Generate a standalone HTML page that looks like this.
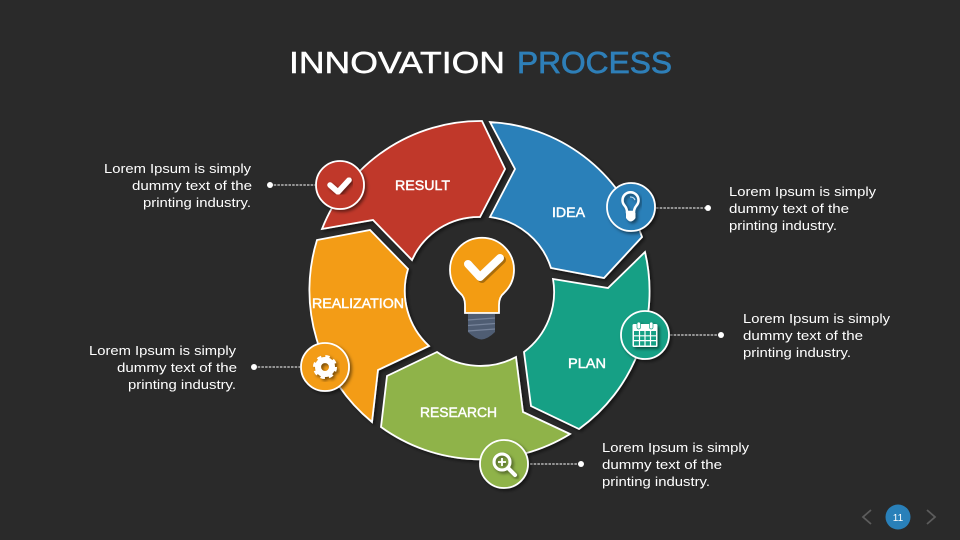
<!DOCTYPE html>
<html><head><meta charset="utf-8"><style>
html,body{margin:0;padding:0;background:#2a2a2a}
svg{display:block}
text{font-family:"Liberation Sans",sans-serif;fill:#fff}
.b{font-size:13px}
.l{font-size:13.5px;stroke:#fff;stroke-width:.45}
.c{stroke:#fff;stroke-width:1;stroke-dasharray:2.5 1.2;fill:none}
</style></head><body>
<svg width="960" height="540" viewBox="0 0 960 540" xmlns="http://www.w3.org/2000/svg">
<defs><filter id="s" x="-20%" y="-20%" width="140%" height="140%"><feDropShadow dx="2" dy="2" stdDeviation="1.500" flood-color="#000" flood-opacity=".5"/></filter></defs>
<rect width="960" height="540" fill="#2a2a2a"/>
<text x="289" y="73" font-size="31" stroke="#fff" stroke-width=".5" textLength="216" lengthAdjust="spacingAndGlyphs">INNOVATION</text>
<text x="517" y="73" font-size="31" stroke="#2e7fb8" stroke-width=".7" textLength="155" lengthAdjust="spacingAndGlyphs" style="fill:#2e7fb8">PROCESS</text>

<g stroke="#fff" stroke-width="1.800" stroke-linejoin="miter" filter="url(#s)">
<path fill="#c0392b" d="M322 229 A170 170 0 0 1 482 121 L505 169 L480 217 A73 73 0 0 0 412 260 L373 220 Z"/>
<path fill="#2980b9" d="M490 122 A170 170 0 0 1 642 237 L604 278 L551 268 A74 74 0 0 0 490 217 L515 169 Z"/>
<path fill="#16a085" d="M553 279 L608 288 L645 252 A170 170 0 0 1 579 429 L531 406 L524 352 A75 75 0 0 0 553 279 Z"/>
<path fill="#8fb34a" d="M570 434 L523 412 L516 357 A75 75 0 0 1 437 352 L387 376 L381 427 A170 170 0 0 0 570 434 Z"/>
<path fill="#f39c12" d="M429 346 L378 370 L372 422 A170 170 0 0 1 317 240 L370 230 L408 269 A75 75 0 0 0 429 346 Z"/>
</g>

<!-- central bulb -->
<path d="M468 314 H495 V332 Q488 339 481.500 339.500 Q475 339 468 332 Z" fill="#4f5d73"/>
<path d="M468 320 L495 318 M468 325.500 L495 323.500 M468 331 L495 329" stroke="#76839a" stroke-width="1.300" fill="none"/>
<path d="M465 313 V305 Q465 297 460 293 A32 32 0 1 1 504 293 Q499 297 499 305 V313 Z" fill="#f39c12" stroke="#fff" stroke-width="1.800"/>
<path d="M468 264 L480 277 L500 258" fill="none" stroke="#000" stroke-opacity=".3" stroke-width="8" stroke-linecap="round" stroke-linejoin="round" transform="translate(2,2)"/>
<path d="M468 264 L480 277 L500 258" fill="none" stroke="#fff" stroke-width="8" stroke-linecap="round" stroke-linejoin="round"/>

<!-- labels -->
<text class="l" x="395" y="190" textLength="55" lengthAdjust="spacingAndGlyphs">RESULT</text>
<text class="l" x="552" y="217" textLength="33" lengthAdjust="spacingAndGlyphs">IDEA</text>
<text class="l" x="312" y="308" textLength="92" lengthAdjust="spacingAndGlyphs">REALIZATION</text>
<text class="l" x="568" y="368" textLength="38" lengthAdjust="spacingAndGlyphs">PLAN</text>
<text class="l" x="420" y="417" textLength="77" lengthAdjust="spacingAndGlyphs">RESEARCH</text>

<!-- connectors -->
<path class="c" d="M270 185 H315 M254 367 H300 M656 208 H708 M670 335 H721 M530 464 H581"/>
<g fill="#fff"><circle cx="270" cy="185" r="3"/><circle cx="254" cy="367" r="3"/><circle cx="708" cy="208" r="3"/><circle cx="721" cy="335" r="3"/><circle cx="581" cy="464" r="3"/></g>

<!-- icon circles -->
<g stroke="#fff" stroke-width="1.800" filter="url(#s)">
<circle cx="340" cy="185" r="24" fill="#c0392b"/>
<circle cx="631" cy="207" r="24" fill="#2980b9"/>
<circle cx="645" cy="335" r="24" fill="#16a085"/>
<circle cx="504" cy="464" r="24" fill="#8fb34a"/>
<circle cx="325" cy="367" r="24" fill="#f39c12"/>
</g>

<!-- check -->
<g filter="url(#s)"><path d="M330 185 L338 192 L349 180" fill="none" stroke="#fff" stroke-width="5.500" stroke-linecap="round" stroke-linejoin="round"/></g>
<!-- bulb -->
<g filter="url(#s)">
<path d="M627 212 Q627 208.500 624.500 205.500 A8 8 0 1 1 636.500 205.500 Q634 208.500 634 212 Z" fill="none" stroke="#fff" stroke-width="2.500"/>
<path d="M630 197 A5 5 0 0 1 635 200" fill="none" stroke="#cfe3f2" stroke-width="1"/>
<path d="M626 213 H635.500 V218 Q633 221.500 630.500 221.500 Q628.500 221.500 626 218 Z" fill="#fff"/>
</g>
<!-- calendar -->
<g filter="url(#s)">
<rect x="632.500" y="324" width="25" height="23" rx="1.500" fill="#fff"/>
<path d="M634 331 H656 V345.500 H634 Z" fill="#16a085"/>
<path d="M634 335.800 H656 M634 340.600 H656 M639.500 331 V346 M645 331 V346 M650.500 331 V346" stroke="#fff" stroke-width="1.200" fill="none"/>
<rect x="637" y="322" width="3.500" height="7" rx="1.700" fill="#fff" stroke="#16a085" stroke-width=".7"/>
<rect x="649.500" y="322" width="3.500" height="7" rx="1.700" fill="#fff" stroke="#16a085" stroke-width=".7"/>
</g>
<!-- magnifier -->
<g filter="url(#s)">
<circle cx="502" cy="462" r="8" fill="none" stroke="#fff" stroke-width="3"/>
<path d="M508 468 L515 475" stroke="#fff" stroke-width="4" stroke-linecap="round"/>
<path d="M498 462 H506 M502 458 V466" stroke="#fff" stroke-width="1.800"/>
</g>
<!-- gear -->
<g filter="url(#s)">
<circle cx="325" cy="367" r="7" fill="none" stroke="#fff" stroke-width="6"/>
<circle cx="325" cy="367" r="10.500" fill="none" stroke="#fff" stroke-width="3" stroke-dasharray="4.250 4"/>
</g>

<!-- body text -->
<text class="b" x="104" y="173" textLength="147" lengthAdjust="spacingAndGlyphs">Lorem Ipsum is simply</text>
<text class="b" x="132" y="190" textLength="120" lengthAdjust="spacingAndGlyphs">dummy text of the</text>
<text class="b" x="143" y="207" textLength="108" lengthAdjust="spacingAndGlyphs">printing industry.</text>
<text class="b" x="89" y="355" textLength="147" lengthAdjust="spacingAndGlyphs">Lorem Ipsum is simply</text>
<text class="b" x="117" y="372" textLength="120" lengthAdjust="spacingAndGlyphs">dummy text of the</text>
<text class="b" x="128" y="389" textLength="108" lengthAdjust="spacingAndGlyphs">printing industry.</text>
<text class="b" x="729" y="196" textLength="147" lengthAdjust="spacingAndGlyphs">Lorem Ipsum is simply</text>
<text class="b" x="729" y="213" textLength="120" lengthAdjust="spacingAndGlyphs">dummy text of the</text>
<text class="b" x="729" y="230" textLength="108" lengthAdjust="spacingAndGlyphs">printing industry.</text>
<text class="b" x="743" y="323" textLength="147" lengthAdjust="spacingAndGlyphs">Lorem Ipsum is simply</text>
<text class="b" x="743" y="340" textLength="120" lengthAdjust="spacingAndGlyphs">dummy text of the</text>
<text class="b" x="743" y="357" textLength="108" lengthAdjust="spacingAndGlyphs">printing industry.</text>
<text class="b" x="602" y="452" textLength="147" lengthAdjust="spacingAndGlyphs">Lorem Ipsum is simply</text>
<text class="b" x="602" y="469" textLength="120" lengthAdjust="spacingAndGlyphs">dummy text of the</text>
<text class="b" x="602" y="486" textLength="108" lengthAdjust="spacingAndGlyphs">printing industry.</text>

<!-- nav -->
<path d="M871 510 L863 517 L871 524 M927 510 L935 517 L927 524" fill="none" stroke="#5c5c5c" stroke-width="1.800"/>
<circle cx="898" cy="517" r="12.500" fill="#2980b9"/>
<text x="898" y="521" font-size="10" text-anchor="middle">11</text>
</svg>
</body></html>
